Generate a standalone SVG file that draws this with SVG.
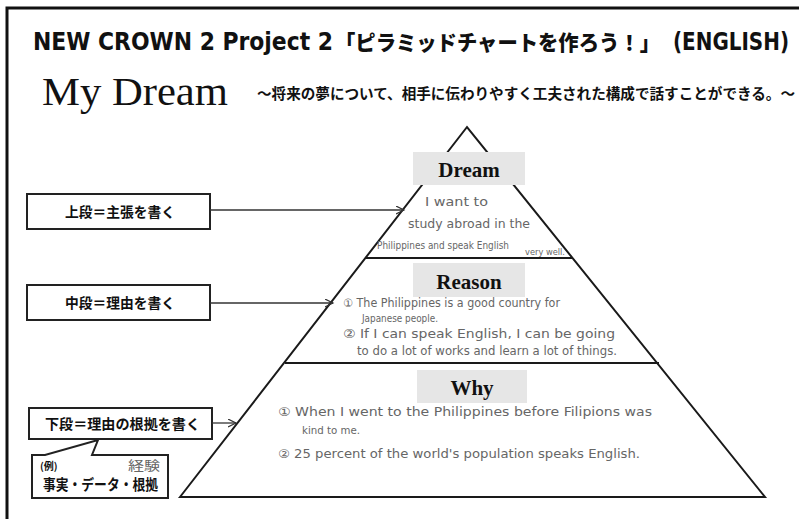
<svg xmlns="http://www.w3.org/2000/svg" width="799" height="519" viewBox="0 0 799 519">
<defs>
<style>
.frame{stroke:#111;stroke-width:3;fill:none}
.edge{stroke:#1a1a1a;stroke-width:2;fill:none}
.box{fill:#fff;stroke:#222;stroke-width:2}
.lbl{fill:#e6e6e6}
.conn{stroke:#333;stroke-width:1.3;fill:none}
.jp{font-family:"Noto Sans CJK JP","Noto Sans",sans-serif;font-weight:700;fill:#111}
.head{font-family:"Liberation Serif","Noto Sans CJK JP",serif;font-weight:700;fill:#111;text-anchor:middle}
.hand{font-family:"DejaVu Sans","Noto Sans CJK JP",sans-serif;fill:#666}
</style>
<marker id="arr" markerWidth="10" markerHeight="10" refX="8" refY="4" orient="auto" markerUnits="userSpaceOnUse">
<path d="M0,0 L8,4 L0,8" stroke="#333" stroke-width="1.2" fill="none"/>
</marker>
</defs>
<rect width="799" height="519" fill="#fff"/>
<path class="frame" d="M7,519 V8 H799"/>
<g id="title">
<text x="33" y="50" font-family="DejaVu Sans Condensed,DejaVu Sans,sans-serif" font-weight="700" font-size="25" textLength="300" lengthAdjust="spacingAndGlyphs" fill="#111">NEW CROWN 2 Project 2</text>
<text x="335" y="50" font-family="Noto Sans CJK JP,sans-serif" font-weight="900" font-size="21" textLength="325" lengthAdjust="spacingAndGlyphs" fill="#111">「ピラミッドチャートを作ろう！」</text>
<text x="673" y="50" font-family="DejaVu Sans Condensed,DejaVu Sans,sans-serif" font-weight="700" font-size="24" textLength="116" lengthAdjust="spacingAndGlyphs" fill="#111">(ENGLISH)</text>
</g>
<g id="subtitle">
<text x="42" y="105" font-family="Liberation Serif,serif" font-size="40" textLength="186" lengthAdjust="spacingAndGlyphs" fill="#111">My Dream</text>
<text x="257" y="99" class="jp" font-size="14.5" textLength="538" lengthAdjust="spacingAndGlyphs">～将来の夢について、相手に伝わりやすく工夫された構成で話すことができる。～</text>
</g>
<g id="pyramid">
<path class="edge" d="M180,497 L467,127 L765,497 Z"/>
<line class="edge" x1="366" y1="258" x2="573" y2="258"/>
<line class="edge" x1="285" y1="363" x2="659" y2="363"/>
</g>
<g id="dream">
<rect class="lbl" x="413" y="152" width="112" height="33"/>
<text class="head" x="469" y="177" font-size="21">Dream</text>
<text class="hand" x="425" y="206" font-size="13" textLength="63" lengthAdjust="spacingAndGlyphs">I want to</text>
<text class="hand" x="408" y="228" font-size="13" textLength="122" lengthAdjust="spacingAndGlyphs">study abroad in the</text>
<text class="hand" x="377" y="249" font-size="10" textLength="132" lengthAdjust="spacingAndGlyphs">Philippines and speak English</text>
<text class="hand" x="525" y="255" font-size="9" textLength="40" lengthAdjust="spacingAndGlyphs">very well.</text>
</g>
<g id="reason">
<rect class="lbl" x="413" y="263" width="112" height="34"/>
<text class="head" x="469" y="289" font-size="21">Reason</text>
<text class="hand" x="343" y="307" font-size="11.5" textLength="217" lengthAdjust="spacingAndGlyphs">① The Philippines is a good country for</text>
<text class="hand" x="362" y="322" font-size="10" textLength="76" lengthAdjust="spacingAndGlyphs">Japanese people.</text>
<text class="hand" x="343" y="338" font-size="12.5" textLength="272" lengthAdjust="spacingAndGlyphs">② If I can speak English, I can be going</text>
<text class="hand" x="357" y="355" font-size="12" textLength="260" lengthAdjust="spacingAndGlyphs">to do a lot of works and learn a lot of things.</text>
</g>
<g id="why">
<rect class="lbl" x="417" y="370" width="110" height="33"/>
<text class="head" x="472" y="395" font-size="21">Why</text>
<text class="hand" x="278" y="416" font-size="12" textLength="374" lengthAdjust="spacingAndGlyphs">① When I went to the Philippines before Filipions was</text>
<text class="hand" x="302" y="434" font-size="11" textLength="58" lengthAdjust="spacingAndGlyphs">kind to me.</text>
<text class="hand" x="278" y="458" font-size="12" textLength="362" lengthAdjust="spacingAndGlyphs">② 25 percent of the world's population speaks English.</text>
</g>
<g id="box-top">
<rect class="box" x="27" y="194" width="183" height="35"/>
<text class="jp" x="65" y="217" font-size="14" textLength="110" lengthAdjust="spacingAndGlyphs">上段＝主張を書く</text>
</g>
<g id="box-middle">
<rect class="box" x="27" y="285" width="183" height="35"/>
<text class="jp" x="65" y="308" font-size="14" textLength="110" lengthAdjust="spacingAndGlyphs">中段＝理由を書く</text>
</g>
<g id="box-bottom">
<rect class="box" x="29" y="408" width="183" height="31"/>
<text class="jp" x="45" y="429" font-size="14" textLength="155" lengthAdjust="spacingAndGlyphs">下段＝理由の根拠を書く</text>
</g>
<g id="callout">
<path class="box" d="M32,455 L45,455 L98,440 L92,455 L168,455 L168,498 L32,498 Z"/>
<text class="jp" x="40" y="470" font-size="10">(例)</text>
<text class="hand" x="128" y="470" font-size="13" textLength="32" lengthAdjust="spacingAndGlyphs">経験</text>
<text class="jp" x="43" y="490" font-size="14.5" font-weight="500" textLength="115" lengthAdjust="spacingAndGlyphs">事実・データ・根拠</text>
</g>
<g id="connectors">
<line class="conn" x1="210" y1="210" x2="404" y2="210" marker-end="url(#arr)"/>
<line class="conn" x1="210" y1="303" x2="333" y2="303" marker-end="url(#arr)"/>
<line class="conn" x1="212" y1="423" x2="236" y2="423" marker-end="url(#arr)"/>
</g>
</svg>
